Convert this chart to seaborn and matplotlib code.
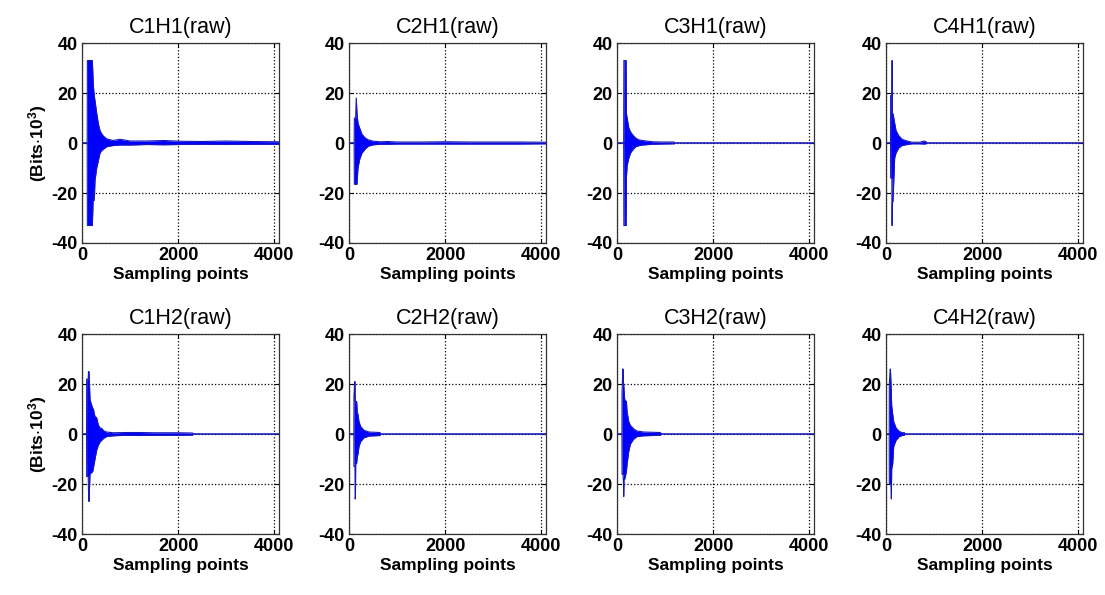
import pandas as pd
import matplotlib
matplotlib.use('Agg')
import matplotlib.pyplot as plt
import seaborn as sns

# Enveloppes (échantillon, max, min) pour chaque voie
c1h1_x = [0, 108, 112, 215, 236, 255, 270, 305, 340, 374, 410, 444, 510, 582, 650, 790, 1000, 1345, 1700, 2040, 2500, 3000, 3500, 4096]
c1h1_up = [0, 0, 33, 33, 23, 19, 17, 12, 7.7, 5, 3.7, 2.8, 1.7, 1.3, 1.0, 1.5, 0.8, 0.8, 1.0, 0.7, 0.6, 0.8, 0.6, 0.5]
c1h1_lo = [0, 0, -33, -33, -20, -23, -15, -10, -7, -4, -3, -2.5, -1.5, -1.2, -1, -0.8, -0.8, -0.6, -0.7, -0.6, -0.5, -0.6, -0.5, -0.5]

c2h1_x = [0, 108, 112, 139, 152, 166, 187, 222, 270, 340, 409, 513, 652, 800, 1000, 1500, 2000, 2500, 3000, 3500, 4096]
c2h1_up = [0, 0, 10, 10, 18, 12, 8, 6, 3.5, 2, 1.2, 0.7, 0.5, 0.6, 0.4, 0.4, 0.5, 0.4, 0.4, 0.4, 0.3]
c2h1_lo = [0, 0, -16.5, -16.5, -16.5, -16.5, -10, -6.5, -4, -2.3, -1.2, -0.7, -0.5, -0.5, -0.4, -0.4, -0.4, -0.4, -0.4, -0.4, -0.3]

c3h1_x = [0, 138, 142, 189, 194, 210, 245, 280, 315, 385, 450, 525, 735, 900, 1190, 1200, 4096]
c3h1_up = [0, 0, 33, 33, 12, 10, 6, 4.5, 3.5, 2, 1.3, 1, 0.5, 0.4, 0.4, 0, 0]
c3h1_lo = [0, 0, -33, -33, -14, -9, -6, -4, -3, -1.5, -1.1, -0.8, -0.5, -0.4, -0.3, 0, 0]

c4h1_x = [0, 95, 97, 122, 125, 130, 133, 146, 180, 208, 263, 333, 437, 541, 700, 800, 830, 850, 4096]
c4h1_up = [0, 0, 19, 19, 33, 33, 12, 11.7, 8, 5, 3, 1.5, 0.8, 0.3, 0.3, 0.8, 0.5, 0, 0]
c4h1_lo = [0, 0, -14, -14, -33, -33, -24, -23, -6, -4, -2, -1, -0.6, -0.3, -0.3, -0.4, -0.3, 0, 0]

c1h2_x = [0, 95, 97, 130, 134, 146, 166, 187, 222, 236, 270, 305, 340, 380, 409, 450, 513, 652, 900, 1200, 1500, 2038, 2300, 2320, 4096]
c1h2_up = [0, 0, 22, 22, 25, 25, 14, 12.4, 10.4, 10, 7, 6.5, 3.6, 2.3, 2.3, 1.3, 0.8, 0.5, 0.6, 0.6, 0.5, 0.5, 0.4, 0, 0]
c1h2_lo = [0, 0, -17, -17, -22, -27, -16, -15.6, -15, -13.6, -10, -6.4, -4.4, -3, -2.5, -1.7, -1, -0.7, -0.5, -0.6, -0.5, -0.5, -0.4, 0, 0]

c2h2_x = [0, 102, 104, 120, 125, 130, 135, 140, 160, 173, 187, 208, 243, 312, 416, 645, 660, 4096]
c2h2_up = [0, 0, 15, 21, 21, 13, 13, 13, 13, 8.4, 8, 5, 3, 1.5, 0.8, 0.6, 0, 0]
c2h2_lo = [0, 0, -13, -13, -13, -26, -25, -12, -11.6, -9, -8, -5, -3, -1.5, -0.8, -0.6, 0, 0]

c3h2_x = [0, 102, 104, 120, 125, 135, 139, 145, 160, 195, 208, 243, 277, 347, 416, 555, 900, 920, 4096]
c3h2_up = [0, 0, 16, 26, 26, 20, 20, 18, 13.7, 13, 9, 5, 3.5, 2, 1.2, 0.8, 0.6, 0, 0]
c3h2_lo = [0, 0, -16, -16, -16, -20, -25, -18, -18, -15, -12, -7, -4, -2, -1, -0.7, -0.5, 0, 0]

c4h2_x = [0, 67, 69, 88, 92, 104, 112, 118, 139, 160, 208, 277, 347, 381, 395, 4096]
c4h2_up = [0, 0, 20, 26, 26, 20, 15, 11.5, 8, 5, 2.5, 1, 0.5, 0.6, 0, 0]
c4h2_lo = [0, 0, -20, -20, -20, -20, -26, -14, -12, -5, -2.5, -1, -0.5, -0.5, 0, 0]

titles = ['C1H1(raw)', 'C2H1(raw)', 'C3H1(raw)', 'C4H1(raw)',
          'C1H2(raw)', 'C2H2(raw)', 'C3H2(raw)', 'C4H2(raw)']
signals = [(c1h1_x, c1h1_up, c1h1_lo), (c2h1_x, c2h1_up, c2h1_lo),
           (c3h1_x, c3h1_up, c3h1_lo), (c4h1_x, c4h1_up, c4h1_lo),
           (c1h2_x, c1h2_up, c1h2_lo), (c2h2_x, c2h2_up, c2h2_lo),
           (c3h2_x, c3h2_up, c3h2_lo), (c4h2_x, c4h2_up, c4h2_lo)]
x_ticks = [0, 2000, 4000]
y_ticks = [-40, -20, 0, 20, 40]

sns.set_style('ticks')
plt.rcParams['font.family'] = ['Liberation Sans', 'DejaVu Sans']
plt.rcParams['mathtext.default'] = 'regular'
plt.rcParams['axes.unicode_minus'] = False
plt.rcParams['text.color'] = 'black'
plt.rcParams['axes.labelcolor'] = 'black'

fig = plt.figure(figsize=(11.05, 5.95), dpi=100)

lefts = [0.0742, 0.3158, 0.5584, 0.8018]
bottoms = [0.5916, 0.1025]
w, h = 0.1783, 0.3361

for i, (title, (xs, up, lo)) in enumerate(zip(titles, signals)):
    ax = fig.add_axes([lefts[i % 4], bottoms[i // 4], w, h])
    df = pd.DataFrame({
        'Sampling points': xs + xs,
        'val': up + lo,
        'edge': ['up'] * len(xs) + ['lo'] * len(xs),
    })
    ax.fill_between(xs, up, lo, color='#0000ff', linewidth=0)
    sns.lineplot(data=df, x='Sampling points', y='val', units='edge', estimator=None,
                 color='#1818b8', linewidth=0.8, ax=ax, legend=False)
    ax.set_xlim(0, 4096)
    ax.set_ylim(-40, 40)
    ax.set_xticks(x_ticks)
    ax.set_yticks(y_ticks)
    ax.grid(True, color='black', linestyle=':', linewidth=0.9)
    ax.tick_params(direction='in', length=3, width=0.8, top=True, right=True,
                   labelsize=13, pad=3, colors='black')
    for lab in ax.get_xticklabels() + ax.get_yticklabels():
        lab.set_fontweight('bold')
    for s in ax.spines.values():
        s.set_color('#333333')
        s.set_linewidth(0.9)
    ax.set_title(title, fontsize=15.5, pad=7, color='black')
    ax.set_xlabel('Sampling points', fontsize=12.5, fontweight='bold', labelpad=2)
    if i % 4 == 0:
        ax.set_ylabel(r'(Bits$\cdot$10$^{3}$)', fontsize=12.5, fontweight='bold', labelpad=2)
    else:
        ax.set_ylabel('')

fig.savefig('out.png', dpi=100)
